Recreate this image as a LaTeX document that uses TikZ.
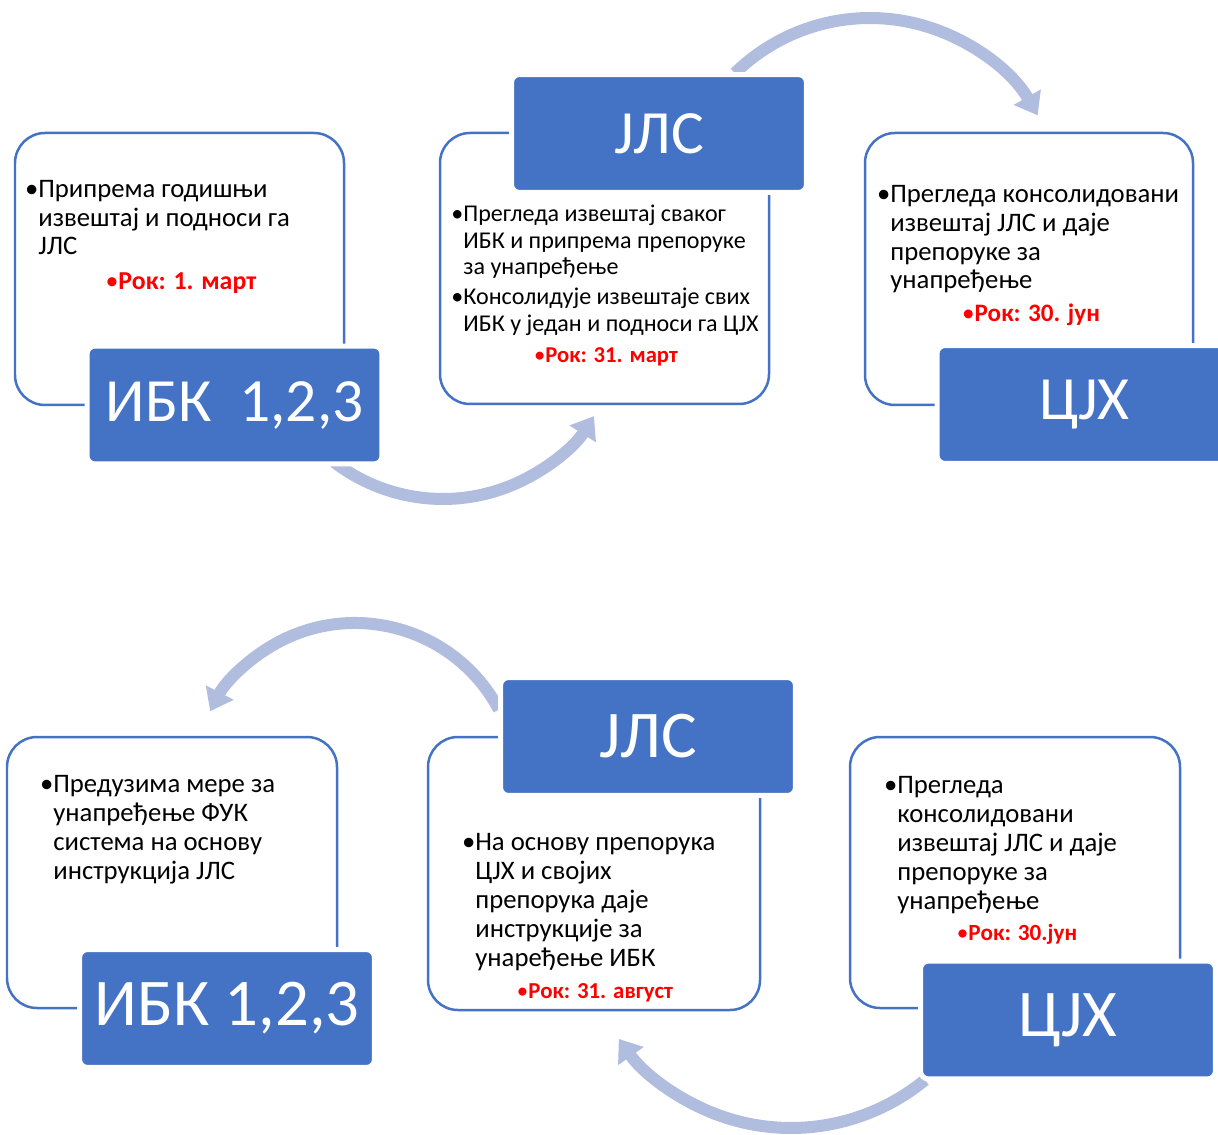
\documentclass[tikz,border=0pt]{standalone}
\usepackage{fontspec}
\setmainfont{Carlito}
\usepackage{tikz}
\usetikzlibrary{arrows.meta}
\definecolor{smartblue}{HTML}{4472C4}
\definecolor{arcblue}{HTML}{B0BDDF}
\newcommand{\duebullet}{{\mdseries •}}

\tikzset{
  card/.style={draw=smartblue, line width=0.05cm, rounded corners=0.6cm, fill=white},
  tag/.style={fill=smartblue, draw=white, line width=0.1cm, rounded corners=0.16cm,
    minimum width=5.9cm, minimum height=2.36cm, inner sep=0pt, text=white},
  body/.style={align=left, inner sep=0pt, anchor=base west, font=\fontsize{15.2}{16.5}\selectfont},
  small/.style={body, font=\fontsize{13.7}{15.1}\selectfont},
  due/.style={inner sep=0pt, anchor=base, text=red, font=\bfseries\fontsize{#1}{15}\selectfont},
  flow/.style={draw=arcblue, line width=0.24cm, -{Triangle[length=0.42cm, width=0.6cm]}}
}

\begin{document}
\begin{tikzpicture}[x=0.02cm, y=0.02cm]
    \useasboundingbox (0,0) rectangle (1218,-1135);
    \clip (0,0) rectangle (1218,-1135);

    % arcs first, they run under the boxes
    \coordinate (arcibk) at (443,-320);
    \coordinate (arcjls) at (870,-211);
    \coordinate (arcback) at (355,-786);
    \coordinate (arccjh) at (791,-917);
    \draw[flow] ([shift={(232.5:179)}]arcibk) arc[start angle=232.5, end angle=327.5, radius=179];
    \draw[flow] ([shift={(134.4:193)}]arcjls) arc[start angle=134.4, end angle=29.7, radius=193];
    \draw[flow] ([shift={(28:163)}]arcback) arc[start angle=28, end angle=152.7, radius=163];
    \draw[flow] ([shift={(309.4:211)}]arccjh) arc[start angle=309.4, end angle=215.3, radius=211];

    % top row (text nodes sit on the baseline of their last line)
    \draw[card] (15,-133) rectangle (344,-405);
    \draw[card] (440,-133) rectangle (769,-404);
    \draw[card] (865,-133) rectangle (1193,-405);

    \node[body] (ibktext) at (38,-255) {\llap{•}Припрема годишњи\\извештај и подноси га\\ЈЛС};
    \node[due=14.7] (ibkdue) at (181,-290) {\duebullet Рок: 1. март};
    \node[small] (jlstext) at (463,-275) {\llap{•}Прегледа извештај сваког\\ИБК и припрема препоруке\\за унапређење};
    \node[small] (jlstexttwo) at (463,-331.5) {\llap{•}Консолидује извештаје свих\\ИБК у један и подноси га ЦЈХ};
    \node[due=12.9] (jlsdue) at (606,-363) {\duebullet Рок: 31. март};
    \node[body] (cjhtext) at (890,-289) {\llap{•}Прегледа консолидовани\\извештај ЈЛС и даје\\препоруке за\\унапређење};
    \node[due=14.3] (cjhdue) at (1031,-322) {\duebullet Рок: 30. јун};

    \node[tag, font=\fontsize{35}{40}\selectfont] (ibk) at (234.5,-405) {ИБК\ \ 1,2,3};
    \node[tag, font=\fontsize{35}{40}\selectfont] (jls) at (659,-133.5) {ЈЛС};
    \node[tag, font=\fontsize{35}{40}\selectfont] (cjh) at (1084.5,-404.5) {ЦЈХ};

    % bottom row
    \draw[card] (7,-737) rectangle (337,-1008);
    \draw[card] (428,-737) rectangle (760,-1010);
    \draw[card] (850,-737) rectangle (1180,-1008);

    \node[body] (ibkbacktext) at (53,-879) {\llap{•}Предузима мере за\\унапређење ФУК\\система на основу\\инструкција ЈЛС};
    \node[body] (jlsbacktext) at (475,-966) {\llap{•}На основу препорука\\ЦЈХ и својих\\препорука даје\\инструкције за\\унаређење ИБК};
    \node[due=13] (jlsbackdue) at (595,-998) {\duebullet Рок: 31. август};
    \node[body] (cjhbacktext) at (897,-909) {\llap{•}Прегледа\\консолидовани\\извештај ЈЛС и даје\\препоруке за\\унапређење};
    \node[due=13.2] (cjhbackdue) at (1017,-940) {\duebullet Рок: 30.јун};

    \node[tag, font=\fontsize{38}{44}\selectfont] (ibkback) at (227,-1008.5) {ИБК 1,2,3};
    \node[tag, font=\fontsize{38}{44}\selectfont] (jlsback) at (648,-736.5) {ЈЛС};
    \node[tag, font=\fontsize{38}{44}\selectfont] (cjhback) at (1068,-1020) {ЦЈХ};
\end{tikzpicture}
\end{document}
